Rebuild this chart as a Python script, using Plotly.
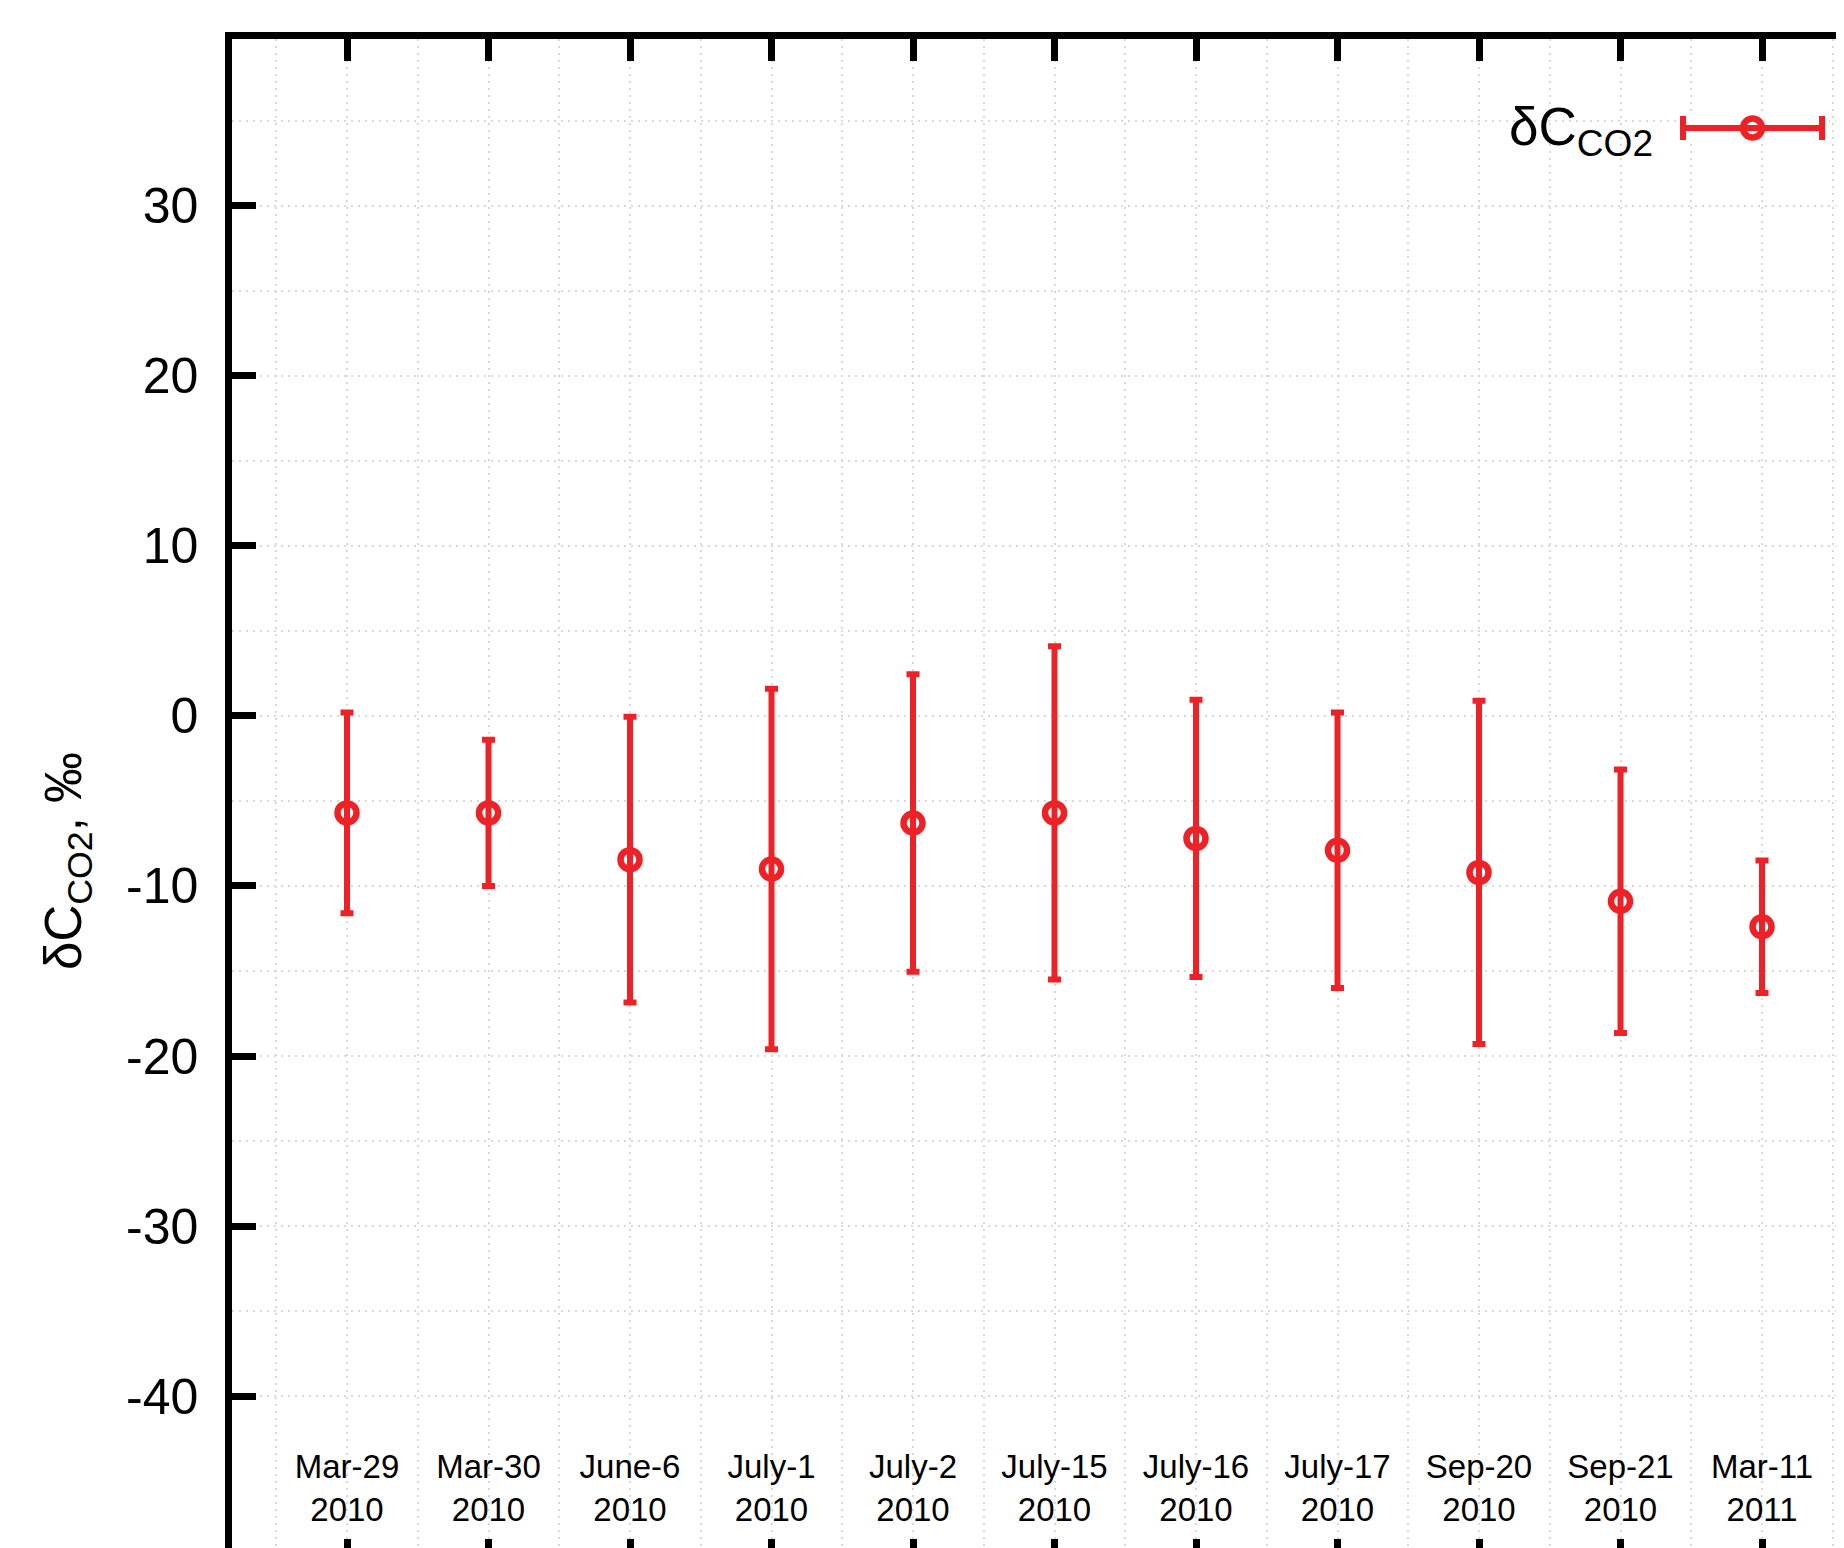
import plotly.graph_objects as go

# ---- data ----
categories = ["Mar-29<br>2010", "Mar-30<br>2010", "June-6<br>2010", "July-1<br>2010",
              "July-2<br>2010", "July-15<br>2010", "July-16<br>2010", "July-17<br>2010",
              "Sep-20<br>2010", "Sep-21<br>2010", "Mar-11<br>2011"]
delta_co2 = [-5.7, -5.7, -8.45, -9.0, -6.3, -5.7, -7.2, -7.9, -9.2, -10.9, -12.4]
delta_err = [5.9, 4.3, 8.4, 10.6, 8.75, 9.8, 8.15, 8.1, 10.1, 7.75, 3.9]
y_ticks = [-40, -30, -20, -10, 0, 10, 20, 30]
y_tick_text = ["-40", "-30", "-20", "-10", "0", "10", "20", "30"]

RED = "#ee2226"
FONT = "Liberation Sans, Arial, Helvetica, sans-serif"
GRID = "#d9d9d9"
DASH = "2px,5px"
positions = list(range(len(categories)))
X_RANGE = [-0.8127, 10.636]

MARKER = dict(symbol="circle-open", size=19, color=RED, line=dict(width=6.5, color=RED))

fig = go.Figure()

fig.add_trace(go.Scatter(
    x=positions, y=delta_co2, mode="markers", showlegend=False,
    marker=MARKER,
    error_y=dict(type="data", array=delta_err, symmetric=True, color=RED,
                 thickness=6, width=6.5),
))

# legend key (drawn on a small hidden key axis)
fig.add_trace(go.Scatter(
    x=[0], y=[0], mode="markers", showlegend=False, xaxis="x2", yaxis="y2",
    marker=MARKER,
    error_x=dict(type="constant", value=1, color=RED, thickness=6, width=12),
    hoverinfo="skip",
))

# dummy trace to activate the top axis
fig.add_trace(go.Scatter(x=[None], y=[None], xaxis="x3", yaxis="y", showlegend=False))

fig.update_layout(
    width=1844, height=1548,
    margin=dict(l=224, r=0, t=31, b=0, pad=0),
    paper_bgcolor="white", plot_bgcolor="white",
    font=dict(family=FONT, color="black"),
    xaxis=dict(
        range=X_RANGE, tickmode="array", tickvals=positions, ticktext=categories,
        ticks="inside", ticklen=17, tickwidth=6.5, tickcolor="black",
        ticklabelposition="inside", ticklabelstandoff=15,
        tickfont=dict(size=33, family=FONT, color="black"),
        showline=False, zeroline=False,
        showgrid=True, gridcolor=GRID, gridwidth=2, griddash=DASH,
        minor=dict(dtick=0.5, tick0=0, showgrid=True, gridcolor=GRID, gridwidth=2,
                   griddash=DASH, ticks=""),
    ),
    xaxis3=dict(
        overlaying="x", matches="x", side="top", range=X_RANGE,
        tickmode="array", tickvals=positions, showticklabels=False,
        ticks="inside", ticklen=22, tickwidth=6.5, tickcolor="black",
        showline=True, linewidth=6.5, linecolor="black", showgrid=False, zeroline=False,
    ),
    yaxis=dict(
        range=[-49.41, 39.82], tickmode="array", tickvals=y_ticks, ticktext=y_tick_text,
        ticks="inside", ticklen=24, tickwidth=6.5, tickcolor="black",
        ticklabelstandoff=17,
        tickfont=dict(size=50, family=FONT, color="black"),
        showline=True, linewidth=6.5, linecolor="black", zeroline=False,
        showgrid=True, gridcolor=GRID, gridwidth=2, griddash=DASH,
        minor=dict(dtick=5, tick0=0, showgrid=True, gridcolor=GRID, gridwidth=2,
                   griddash=DASH, ticks=""),
    ),
    xaxis2=dict(domain=[0.8914, 0.9858], range=[-1.1, 1.1], visible=False, anchor="y2"),
    yaxis2=dict(domain=[0.9308, 0.9518], range=[-1, 1], visible=False, anchor="x2"),
    annotations=[
        dict(text="δC<sub>CO2</sub>, ‰", xref="paper", yref="paper", x=-0.1019, y=0.4581,
             xanchor="center", yanchor="middle", textangle=-90, showarrow=False,
             font=dict(size=51, family=FONT, color="black")),
        dict(text="δC<sub>CO2</sub>", xref="paper", yref="paper", x=0.8784, y=0.940,
             xanchor="right", yanchor="middle", showarrow=False,
             font=dict(size=53, family=FONT, color="black")),
    ],
)

fig.write_html("out.html")
